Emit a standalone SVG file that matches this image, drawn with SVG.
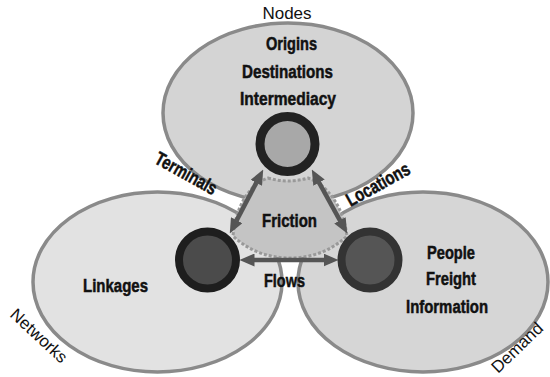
<svg xmlns="http://www.w3.org/2000/svg" width="550" height="377" viewBox="0 0 550 377">
<style>
.ell{stroke:#8a8a8a;stroke-width:3.5}
.b{font-family:"Liberation Sans",Arial,sans-serif;font-weight:bold;font-size:18px;fill:#111;stroke:#111;stroke-width:0.5;text-anchor:middle}
.lb{font-family:"Liberation Sans",Arial,sans-serif;font-weight:bold;font-size:19px;fill:#111;stroke:#111;stroke-width:0.5;text-anchor:middle}
.n{font-family:"Liberation Sans",Arial,sans-serif;font-size:17px;fill:#111}
.arr{stroke:#555;stroke-width:4.5;fill:none;marker-start:url(#ah);marker-end:url(#ah)}
</style>
<defs>
<marker id="ah" markerUnits="userSpaceOnUse" markerWidth="15" markerHeight="13" viewBox="0 0 15 13" refX="0.5" refY="6.5" orient="auto-start-reverse">
<path d="M0,0 L15,6.5 L0,13 z" fill="#555"/>
</marker>
</defs>
<rect width="550" height="377" fill="#fff"/>
<g id="networks">
<ellipse class="ell" cx="157.5" cy="282" rx="124.5" ry="90" fill="#e2e2e2"/>
<text class="b" x="115.5" y="292" textLength="65" lengthAdjust="spacingAndGlyphs">Linkages</text>
<text class="n" text-anchor="middle" transform="translate(35,340) rotate(43)">Networks</text>
</g>
<g id="demand">
<ellipse class="ell" cx="423" cy="282" rx="125" ry="90" fill="#d6d6d6"/>
<text class="b" x="451" y="259" textLength="48" lengthAdjust="spacingAndGlyphs">People</text>
<text class="b" x="451" y="285" textLength="50" lengthAdjust="spacingAndGlyphs">Freight</text>
<text class="b" x="447" y="313" textLength="82" lengthAdjust="spacingAndGlyphs">Information</text>
<text class="n" font-size="16" transform="translate(498,374) rotate(-44)">Demand</text>
</g>
<g id="nodes">
<ellipse class="ell" cx="288" cy="113" rx="125" ry="90" fill="#d4d4d4"/>
<text class="n" x="287" y="19" text-anchor="middle" font-size="18">Nodes</text>
<text class="b" x="291.5" y="50" textLength="51" lengthAdjust="spacingAndGlyphs">Origins</text>
<text class="b" x="287.5" y="78" textLength="91" lengthAdjust="spacingAndGlyphs">Destinations</text>
<text class="b" x="288" y="105" textLength="96" lengthAdjust="spacingAndGlyphs">Intermediacy</text>
</g>
<g id="labels">
<text class="lb" transform="translate(183,179) rotate(29)" textLength="68" lengthAdjust="spacingAndGlyphs">Terminals</text>
<text class="lb" transform="translate(381,190) rotate(-29)" textLength="70" lengthAdjust="spacingAndGlyphs">Locations</text>
</g>
<g id="friction">
<path d="M 268 178 Q 288 184 308 178 C 326 184 343 205 347 236 C 330 252 310 258 290 258 C 270 258 250 252 233 236 C 236 205 250 184 268 178 Z" fill="#c4c4c4" stroke="#999" stroke-width="3" stroke-dasharray="3 2"/>
<text class="b" x="289.5" y="227" textLength="55" lengthAdjust="spacingAndGlyphs">Friction</text>
</g>
<g id="connectors">
<line class="arr" x1="256.5" y1="182.4" x2="236.5" y2="220.6"/>
<line class="arr" x1="318.8" y1="182.2" x2="340.2" y2="220.8"/>
<line class="arr" x1="254" y1="260" x2="324" y2="260"/>
<text class="b" x="284.5" y="287" textLength="41" lengthAdjust="spacingAndGlyphs">Flows</text>
</g>
<g id="node-top">
<circle cx="287.5" cy="144" r="27.5" fill="#a8a8a8" stroke="#222" stroke-width="9"/>
</g>
<g id="node-left">
<circle cx="207.5" cy="260" r="28.5" fill="#4b4b4b" stroke="#1e1e1e" stroke-width="8"/>
</g>
<g id="node-right">
<circle cx="370" cy="260" r="28.5" fill="#555" stroke="#333" stroke-width="8"/>
</g>
</svg>
